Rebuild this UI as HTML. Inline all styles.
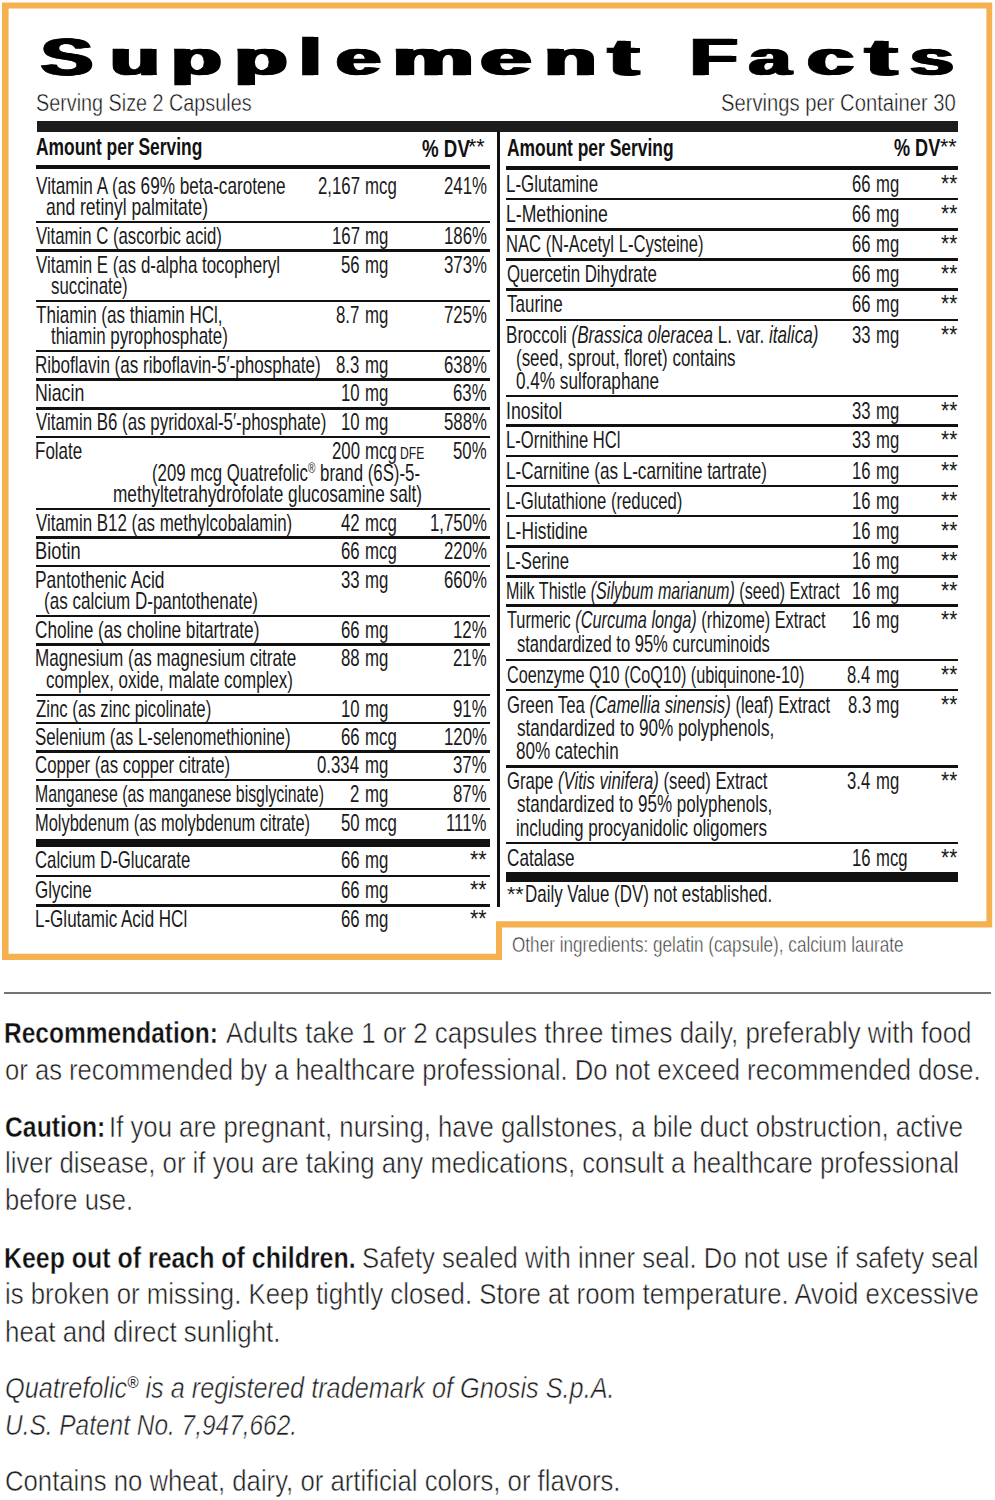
<!DOCTYPE html>
<html><head><meta charset="utf-8"><style>
html,body{margin:0;padding:0;background:#fff;}
body{width:995px;height:1500px;position:relative;overflow:hidden;font-family:"Liberation Sans",sans-serif;}
.t{position:absolute;white-space:nowrap;line-height:1;transform-origin:0 0;}
.r{position:absolute;}
.frame{position:absolute;left:0;top:0;}
</style></head><body>
<svg class="frame" width="995" height="1500" viewBox="0 0 995 1500"><path fill="#F5B14F" fill-rule="evenodd" d="M2,2.5 L992.2,2.5 L992.2,927.4 L502,927.4 L502,960 L2,960 Z M8.6,8.5 L986.4,8.5 L986.4,921.2 L496,921.2 L496,953.7 L8.6,953.7 Z"/></svg>
<div class="t" style="left:39.36px;top:31px;font-size:52.00px;transform:scaleX(1.4945);color:#000;text-shadow:1px 0 0 #000,2px 0 0 #000,3px 0 0 #000;-webkit-text-stroke:0.5px #000;"><span style="font-weight:700;">S</span></div>
<div class="t" style="left:108.04px;top:31px;font-size:52.00px;transform:scale(1.5592,0.9150);transform-origin:0 44px;color:#000;text-shadow:1px 0 0 #000,2px 0 0 #000,3px 0 0 #000;-webkit-text-stroke:0.5px #000;"><span style="font-weight:700;">u</span></div>
<div class="t" style="left:169.13px;top:31px;font-size:52.00px;transform:scale(1.5892,0.9150);transform-origin:0 44px;color:#000;text-shadow:1px 0 0 #000,2px 0 0 #000,3px 0 0 #000;-webkit-text-stroke:0.5px #000;"><span style="font-weight:700;">p</span></div>
<div class="t" style="left:231.64px;top:31px;font-size:52.00px;transform:scale(1.6746,0.9150);transform-origin:0 44px;color:#000;text-shadow:1px 0 0 #000,2px 0 0 #000,3px 0 0 #000;-webkit-text-stroke:0.5px #000;"><span style="font-weight:700;">p</span></div>
<div class="t" style="left:297.47px;top:31px;font-size:52.00px;transform:scaleX(1.5465);color:#000;text-shadow:1px 0 0 #000,2px 0 0 #000,3px 0 0 #000;-webkit-text-stroke:0.5px #000;"><span style="font-weight:700;">l</span></div>
<div class="t" style="left:333.79px;top:31px;font-size:52.00px;transform:scale(1.5449,0.9150);transform-origin:0 44px;color:#000;text-shadow:1px 0 0 #000,2px 0 0 #000,3px 0 0 #000;-webkit-text-stroke:0.5px #000;"><span style="font-weight:700;">e</span></div>
<div class="t" style="left:389.64px;top:31px;font-size:52.00px;transform:scale(1.7625,0.9150);transform-origin:0 44px;color:#000;text-shadow:1px 0 0 #000,2px 0 0 #000,3px 0 0 #000;-webkit-text-stroke:0.5px #000;"><span style="font-weight:700;">m</span></div>
<div class="t" style="left:477.78px;top:31px;font-size:52.00px;transform:scale(1.7697,0.9150);transform-origin:0 44px;color:#000;text-shadow:1px 0 0 #000,2px 0 0 #000,3px 0 0 #000;-webkit-text-stroke:0.5px #000;"><span style="font-weight:700;">e</span></div>
<div class="t" style="left:542.13px;top:31px;font-size:52.00px;transform:scale(1.6478,0.9150);transform-origin:0 44px;color:#000;text-shadow:1px 0 0 #000,2px 0 0 #000,3px 0 0 #000;-webkit-text-stroke:0.5px #000;"><span style="font-weight:700;">n</span></div>
<div class="t" style="left:605.79px;top:31px;font-size:52.00px;transform:scaleX(1.7544);color:#000;text-shadow:1px 0 0 #000,2px 0 0 #000,3px 0 0 #000;-webkit-text-stroke:0.5px #000;"><span style="font-weight:700;">t</span></div>
<div class="t" style="left:688.24px;top:31px;font-size:52.00px;transform:scaleX(1.4973);color:#000;text-shadow:1px 0 0 #000,2px 0 0 #000,3px 0 0 #000;-webkit-text-stroke:0.5px #000;"><span style="font-weight:700;">F</span></div>
<div class="t" style="left:746.91px;top:31px;font-size:52.00px;transform:scale(1.4543,0.9150);transform-origin:0 44px;color:#000;text-shadow:1px 0 0 #000,2px 0 0 #000,3px 0 0 #000;-webkit-text-stroke:0.5px #000;"><span style="font-weight:700;">a</span></div>
<div class="t" style="left:804.86px;top:31px;font-size:52.00px;transform:scale(1.6180,0.9150);transform-origin:0 44px;color:#000;text-shadow:1px 0 0 #000,2px 0 0 #000,3px 0 0 #000;-webkit-text-stroke:0.5px #000;"><span style="font-weight:700;">c</span></div>
<div class="t" style="left:863.46px;top:31px;font-size:52.00px;transform:scaleX(1.8111);color:#000;text-shadow:1px 0 0 #000,2px 0 0 #000,3px 0 0 #000;-webkit-text-stroke:0.5px #000;"><span style="font-weight:700;">t</span></div>
<div class="t" style="left:908.15px;top:31px;font-size:52.00px;transform:scale(1.5131,0.9150);transform-origin:0 44px;color:#000;text-shadow:1px 0 0 #000,2px 0 0 #000,3px 0 0 #000;-webkit-text-stroke:0.5px #000;"><span style="font-weight:700;">s</span></div>
<div class="t" style="left:36.41px;top:91px;font-size:24.60px;transform:scaleX(0.8044);color:#111;-webkit-text-stroke:0.45px #fff;">Serving Size 2 Capsules</div>
<div class="t" style="left:721.09px;top:91px;font-size:24.60px;transform:scaleX(0.8218);color:#111;-webkit-text-stroke:0.45px #fff;">Servings per Container 30</div>
<div class="r" style="left:37.00px;top:121.20px;width:921.20px;height:10.60px;background:#1c1c1c"></div>
<div class="r" style="left:497.30px;top:131.00px;width:2.70px;height:775.50px;background:#111"></div>
<div class="r" style="left:36.20px;top:164.90px;width:453.80px;height:4.60px;background:#111"></div>
<div class="r" style="left:506.30px;top:165.60px;width:452.00px;height:4.40px;background:#111"></div>
<div class="t" style="left:35.76px;top:136px;font-size:23.10px;transform:scaleX(0.7537);color:#111;"><span style="font-weight:700;">Amount per Serving</span></div>
<div class="t" style="left:422.23px;top:138px;font-size:23.10px;transform:scaleX(0.8110);color:#111;"><span style="font-weight:700;">% DV</span></div>
<div class="t" style="left:468.18px;top:137px;font-size:21.50px;transform:scaleX(0.9922);color:#111;">**</div>
<div class="t" style="left:506.56px;top:137px;font-size:23.10px;transform:scaleX(0.7547);color:#111;"><span style="font-weight:700;">Amount per Serving</span></div>
<div class="t" style="left:894.24px;top:137px;font-size:23.10px;transform:scaleX(0.7837);color:#111;"><span style="font-weight:700;">% DV</span></div>
<div class="t" style="left:940.48px;top:137px;font-size:21.50px;transform:scaleX(0.9922);color:#111;">**</div>
<div class="r" style="left:36.20px;top:220.75px;width:453.80px;height:2.50px;background:#111"></div>
<div class="r" style="left:36.20px;top:249.45px;width:453.80px;height:2.50px;background:#111"></div>
<div class="r" style="left:36.20px;top:299.75px;width:453.80px;height:2.50px;background:#111"></div>
<div class="r" style="left:36.20px;top:349.75px;width:453.80px;height:2.50px;background:#111"></div>
<div class="r" style="left:36.20px;top:378.25px;width:453.80px;height:2.50px;background:#111"></div>
<div class="r" style="left:36.20px;top:407.25px;width:453.80px;height:2.50px;background:#111"></div>
<div class="r" style="left:36.20px;top:435.75px;width:453.80px;height:2.50px;background:#111"></div>
<div class="r" style="left:36.20px;top:507.75px;width:453.80px;height:2.50px;background:#111"></div>
<div class="r" style="left:36.20px;top:536.35px;width:453.80px;height:2.50px;background:#111"></div>
<div class="r" style="left:36.20px;top:564.75px;width:453.80px;height:2.50px;background:#111"></div>
<div class="r" style="left:36.20px;top:614.75px;width:453.80px;height:2.50px;background:#111"></div>
<div class="r" style="left:36.20px;top:643.25px;width:453.80px;height:2.50px;background:#111"></div>
<div class="r" style="left:36.20px;top:693.75px;width:453.80px;height:2.50px;background:#111"></div>
<div class="r" style="left:36.20px;top:721.75px;width:453.80px;height:2.50px;background:#111"></div>
<div class="r" style="left:36.20px;top:750.25px;width:453.80px;height:2.50px;background:#111"></div>
<div class="r" style="left:36.20px;top:778.75px;width:453.80px;height:2.50px;background:#111"></div>
<div class="r" style="left:36.20px;top:807.75px;width:453.80px;height:2.50px;background:#111"></div>
<div class="r" style="left:36.20px;top:839.00px;width:453.80px;height:8.00px;background:#111"></div>
<div class="r" style="left:36.20px;top:874.75px;width:453.80px;height:2.50px;background:#111"></div>
<div class="r" style="left:36.20px;top:904.35px;width:453.80px;height:2.50px;background:#111"></div>
<div class="t" style="left:36.20px;top:175px;font-size:23.60px;transform:scaleX(0.7274);color:#1a1a1a;">Vitamin A (as 69% beta-carotene</div>
<div class="t" style="left:46.30px;top:196px;font-size:23.60px;transform:scaleX(0.7404);color:#1a1a1a;">and retinyl palmitate)</div>
<div class="t" style="left:317.75px;top:175px;font-size:23.60px;transform:scaleX(0.7120);color:#1a1a1a;">2,167</div>
<div class="t" style="left:365.31px;top:175px;font-size:23.60px;transform:scaleX(0.7120);color:#1a1a1a;">mcg</div>
<div class="t" style="left:443.77px;top:175px;font-size:23.60px;transform:scaleX(0.7120);color:#1a1a1a;">241%</div>
<div class="t" style="left:36.20px;top:225px;font-size:23.60px;transform:scaleX(0.7101);color:#1a1a1a;">Vitamin C (ascorbic acid)</div>
<div class="t" style="left:331.78px;top:225px;font-size:23.60px;transform:scaleX(0.7120);color:#1a1a1a;">167</div>
<div class="t" style="left:365.31px;top:225px;font-size:23.60px;transform:scaleX(0.7120);color:#1a1a1a;">mg</div>
<div class="t" style="left:443.77px;top:225px;font-size:23.60px;transform:scaleX(0.7120);color:#1a1a1a;">186%</div>
<div class="t" style="left:36.20px;top:254px;font-size:23.60px;transform:scaleX(0.7165);color:#1a1a1a;">Vitamin E (as d-alpha tocopheryl</div>
<div class="t" style="left:50.88px;top:275px;font-size:23.60px;transform:scaleX(0.7130);color:#1a1a1a;">succinate)</div>
<div class="t" style="left:341.02px;top:254px;font-size:23.60px;transform:scaleX(0.7120);color:#1a1a1a;">56</div>
<div class="t" style="left:365.31px;top:254px;font-size:23.60px;transform:scaleX(0.7120);color:#1a1a1a;">mg</div>
<div class="t" style="left:443.77px;top:254px;font-size:23.60px;transform:scaleX(0.7120);color:#1a1a1a;">373%</div>
<div class="t" style="left:35.86px;top:304px;font-size:23.60px;transform:scaleX(0.7224);color:#1a1a1a;">Thiamin (as thiamin HCl,</div>
<div class="t" style="left:51.05px;top:325px;font-size:23.60px;transform:scaleX(0.7172);color:#1a1a1a;">thiamin pyrophosphate)</div>
<div class="t" style="left:336.40px;top:304px;font-size:23.60px;transform:scaleX(0.7120);color:#1a1a1a;">8.7</div>
<div class="t" style="left:365.31px;top:304px;font-size:23.60px;transform:scaleX(0.7120);color:#1a1a1a;">mg</div>
<div class="t" style="left:443.77px;top:304px;font-size:23.60px;transform:scaleX(0.7120);color:#1a1a1a;">725%</div>
<div class="t" style="left:34.84px;top:354px;font-size:23.60px;transform:scaleX(0.7227);color:#1a1a1a;">Riboflavin (as riboflavin-5′-phosphate)</div>
<div class="t" style="left:336.32px;top:354px;font-size:23.60px;transform:scaleX(0.7120);color:#1a1a1a;">8.3</div>
<div class="t" style="left:365.31px;top:354px;font-size:23.60px;transform:scaleX(0.7120);color:#1a1a1a;">mg</div>
<div class="t" style="left:443.77px;top:354px;font-size:23.60px;transform:scaleX(0.7120);color:#1a1a1a;">638%</div>
<div class="t" style="left:34.78px;top:382px;font-size:23.60px;transform:scaleX(0.7512);color:#1a1a1a;">Niacin</div>
<div class="t" style="left:340.94px;top:382px;font-size:23.60px;transform:scaleX(0.7120);color:#1a1a1a;">10</div>
<div class="t" style="left:365.31px;top:382px;font-size:23.60px;transform:scaleX(0.7120);color:#1a1a1a;">mg</div>
<div class="t" style="left:453.18px;top:382px;font-size:23.60px;transform:scaleX(0.7120);color:#1a1a1a;">63%</div>
<div class="t" style="left:36.20px;top:411px;font-size:23.60px;transform:scaleX(0.7163);color:#1a1a1a;">Vitamin B6 (as pyridoxal-5′-phosphate)</div>
<div class="t" style="left:340.94px;top:411px;font-size:23.60px;transform:scaleX(0.7120);color:#1a1a1a;">10</div>
<div class="t" style="left:365.31px;top:411px;font-size:23.60px;transform:scaleX(0.7120);color:#1a1a1a;">mg</div>
<div class="t" style="left:443.77px;top:411px;font-size:23.60px;transform:scaleX(0.7120);color:#1a1a1a;">588%</div>
<div class="t" style="left:34.84px;top:440px;font-size:23.60px;transform:scaleX(0.7200);color:#1a1a1a;">Folate</div>
<div class="t" style="left:331.61px;top:440px;font-size:23.60px;transform:scaleX(0.7120);color:#1a1a1a;">200</div>
<div class="t" style="left:365.31px;top:440px;font-size:23.60px;transform:scaleX(0.7120);color:#1a1a1a;">mcg<span style="font-size:0.720em;"> DFE</span></div>
<div class="t" style="left:453.18px;top:440px;font-size:23.60px;transform:scaleX(0.7120);color:#1a1a1a;">50%</div>
<div class="t" style="left:152.29px;top:461px;font-size:23.60px;transform:scaleX(0.7122);color:#1a1a1a;">(209 mcg Quatrefolic<span style="font-size:0.600em;vertical-align:0.55em">®</span> brand (6S)-5-</div>
<div class="t" style="left:112.88px;top:483px;font-size:23.60px;transform:scaleX(0.7296);color:#1a1a1a;">methyltetrahydrofolate glucosamine salt)</div>
<div class="t" style="left:36.20px;top:512px;font-size:23.60px;transform:scaleX(0.7166);color:#1a1a1a;">Vitamin B12 (as methylcobalamin)</div>
<div class="t" style="left:341.10px;top:512px;font-size:23.60px;transform:scaleX(0.7120);color:#1a1a1a;">42</div>
<div class="t" style="left:365.31px;top:512px;font-size:23.60px;transform:scaleX(0.7120);color:#1a1a1a;">mcg</div>
<div class="t" style="left:429.74px;top:512px;font-size:23.60px;transform:scaleX(0.7120);color:#1a1a1a;">1,750%</div>
<div class="t" style="left:34.74px;top:540px;font-size:23.60px;transform:scaleX(0.7756);color:#1a1a1a;">Biotin</div>
<div class="t" style="left:341.02px;top:540px;font-size:23.60px;transform:scaleX(0.7120);color:#1a1a1a;">66</div>
<div class="t" style="left:365.31px;top:540px;font-size:23.60px;transform:scaleX(0.7120);color:#1a1a1a;">mcg</div>
<div class="t" style="left:443.77px;top:540px;font-size:23.60px;transform:scaleX(0.7120);color:#1a1a1a;">220%</div>
<div class="t" style="left:34.81px;top:569px;font-size:23.60px;transform:scaleX(0.7367);color:#1a1a1a;">Pantothenic Acid</div>
<div class="t" style="left:44.18px;top:590px;font-size:23.60px;transform:scaleX(0.7222);color:#1a1a1a;">(as calcium D-pantothenate)</div>
<div class="t" style="left:341.02px;top:569px;font-size:23.60px;transform:scaleX(0.7120);color:#1a1a1a;">33</div>
<div class="t" style="left:365.31px;top:569px;font-size:23.60px;transform:scaleX(0.7120);color:#1a1a1a;">mg</div>
<div class="t" style="left:443.77px;top:569px;font-size:23.60px;transform:scaleX(0.7120);color:#1a1a1a;">660%</div>
<div class="t" style="left:35.34px;top:619px;font-size:23.60px;transform:scaleX(0.7281);color:#1a1a1a;">Choline (as choline bitartrate)</div>
<div class="t" style="left:341.02px;top:619px;font-size:23.60px;transform:scaleX(0.7120);color:#1a1a1a;">66</div>
<div class="t" style="left:365.31px;top:619px;font-size:23.60px;transform:scaleX(0.7120);color:#1a1a1a;">mg</div>
<div class="t" style="left:453.18px;top:619px;font-size:23.60px;transform:scaleX(0.7120);color:#1a1a1a;">12%</div>
<div class="t" style="left:34.83px;top:647px;font-size:23.60px;transform:scaleX(0.7245);color:#1a1a1a;">Magnesium (as magnesium citrate</div>
<div class="t" style="left:45.52px;top:669px;font-size:23.60px;transform:scaleX(0.7186);color:#1a1a1a;">complex, oxide, malate complex)</div>
<div class="t" style="left:341.02px;top:647px;font-size:23.60px;transform:scaleX(0.7120);color:#1a1a1a;">88</div>
<div class="t" style="left:365.31px;top:647px;font-size:23.60px;transform:scaleX(0.7120);color:#1a1a1a;">mg</div>
<div class="t" style="left:453.18px;top:647px;font-size:23.60px;transform:scaleX(0.7120);color:#1a1a1a;">21%</div>
<div class="t" style="left:35.70px;top:698px;font-size:23.60px;transform:scaleX(0.7109);color:#1a1a1a;">Zinc (as zinc picolinate)</div>
<div class="t" style="left:340.94px;top:698px;font-size:23.60px;transform:scaleX(0.7120);color:#1a1a1a;">10</div>
<div class="t" style="left:365.31px;top:698px;font-size:23.60px;transform:scaleX(0.7120);color:#1a1a1a;">mg</div>
<div class="t" style="left:453.18px;top:698px;font-size:23.60px;transform:scaleX(0.7120);color:#1a1a1a;">91%</div>
<div class="t" style="left:35.44px;top:726px;font-size:23.60px;transform:scaleX(0.7136);color:#1a1a1a;">Selenium (as L-selenomethionine)</div>
<div class="t" style="left:341.02px;top:726px;font-size:23.60px;transform:scaleX(0.7120);color:#1a1a1a;">66</div>
<div class="t" style="left:365.31px;top:726px;font-size:23.60px;transform:scaleX(0.7120);color:#1a1a1a;">mcg</div>
<div class="t" style="left:443.77px;top:726px;font-size:23.60px;transform:scaleX(0.7120);color:#1a1a1a;">120%</div>
<div class="t" style="left:35.36px;top:754px;font-size:23.60px;transform:scaleX(0.7120);color:#1a1a1a;">Copper (as copper citrate)</div>
<div class="t" style="left:317.41px;top:754px;font-size:23.60px;transform:scaleX(0.7120);color:#1a1a1a;">0.334</div>
<div class="t" style="left:365.31px;top:754px;font-size:23.60px;transform:scaleX(0.7120);color:#1a1a1a;">mg</div>
<div class="t" style="left:453.18px;top:754px;font-size:23.60px;transform:scaleX(0.7120);color:#1a1a1a;">37%</div>
<div class="t" style="left:34.93px;top:783px;font-size:23.60px;transform:scaleX(0.6716);color:#1a1a1a;">Manganese (as manganese bisglycinate)</div>
<div class="t" style="left:350.43px;top:783px;font-size:23.60px;transform:scaleX(0.7120);color:#1a1a1a;">2</div>
<div class="t" style="left:365.31px;top:783px;font-size:23.60px;transform:scaleX(0.7120);color:#1a1a1a;">mg</div>
<div class="t" style="left:453.18px;top:783px;font-size:23.60px;transform:scaleX(0.7120);color:#1a1a1a;">87%</div>
<div class="t" style="left:34.88px;top:812px;font-size:23.60px;transform:scaleX(0.6968);color:#1a1a1a;">Molybdenum (as molybdenum citrate)</div>
<div class="t" style="left:340.94px;top:812px;font-size:23.60px;transform:scaleX(0.7120);color:#1a1a1a;">50</div>
<div class="t" style="left:365.31px;top:812px;font-size:23.60px;transform:scaleX(0.7120);color:#1a1a1a;">mcg</div>
<div class="t" style="left:446.29px;top:812px;font-size:23.60px;transform:scaleX(0.7120);color:#1a1a1a;">111%</div>
<div class="t" style="left:35.36px;top:849px;font-size:23.60px;transform:scaleX(0.7091);color:#1a1a1a;">Calcium D-Glucarate</div>
<div class="t" style="left:341.02px;top:849px;font-size:23.60px;transform:scaleX(0.7120);color:#1a1a1a;">66</div>
<div class="t" style="left:365.31px;top:849px;font-size:23.60px;transform:scaleX(0.7120);color:#1a1a1a;">mg</div>
<div class="t" style="left:469.88px;top:849px;font-size:23.60px;transform:scaleX(0.9040);color:#1a1a1a;">**</div>
<div class="t" style="left:35.35px;top:879px;font-size:23.60px;transform:scaleX(0.7221);color:#1a1a1a;">Glycine</div>
<div class="t" style="left:341.02px;top:879px;font-size:23.60px;transform:scaleX(0.7120);color:#1a1a1a;">66</div>
<div class="t" style="left:365.31px;top:879px;font-size:23.60px;transform:scaleX(0.7120);color:#1a1a1a;">mg</div>
<div class="t" style="left:469.88px;top:879px;font-size:23.60px;transform:scaleX(0.9040);color:#1a1a1a;">**</div>
<div class="t" style="left:34.84px;top:908px;font-size:23.60px;transform:scaleX(0.7209);color:#1a1a1a;">L-Glutamic Acid HCl</div>
<div class="t" style="left:341.02px;top:908px;font-size:23.60px;transform:scaleX(0.7120);color:#1a1a1a;">66</div>
<div class="t" style="left:365.31px;top:908px;font-size:23.60px;transform:scaleX(0.7120);color:#1a1a1a;">mg</div>
<div class="t" style="left:469.88px;top:908px;font-size:23.60px;transform:scaleX(0.9040);color:#1a1a1a;">**</div>
<div class="r" style="left:506.30px;top:197.75px;width:452.00px;height:2.50px;background:#111"></div>
<div class="r" style="left:506.30px;top:228.25px;width:452.00px;height:2.50px;background:#111"></div>
<div class="r" style="left:506.30px;top:258.05px;width:452.00px;height:2.50px;background:#111"></div>
<div class="r" style="left:506.30px;top:288.35px;width:452.00px;height:2.50px;background:#111"></div>
<div class="r" style="left:506.30px;top:318.55px;width:452.00px;height:2.50px;background:#111"></div>
<div class="r" style="left:506.30px;top:394.95px;width:452.00px;height:2.50px;background:#111"></div>
<div class="r" style="left:506.30px;top:424.35px;width:452.00px;height:2.50px;background:#111"></div>
<div class="r" style="left:506.30px;top:454.75px;width:452.00px;height:2.50px;background:#111"></div>
<div class="r" style="left:506.30px;top:484.75px;width:452.00px;height:2.50px;background:#111"></div>
<div class="r" style="left:506.30px;top:514.75px;width:452.00px;height:2.50px;background:#111"></div>
<div class="r" style="left:506.30px;top:545.15px;width:452.00px;height:2.50px;background:#111"></div>
<div class="r" style="left:506.30px;top:575.15px;width:452.00px;height:2.50px;background:#111"></div>
<div class="r" style="left:506.30px;top:604.35px;width:452.00px;height:2.50px;background:#111"></div>
<div class="r" style="left:506.30px;top:658.75px;width:452.00px;height:2.50px;background:#111"></div>
<div class="r" style="left:506.30px;top:688.75px;width:452.00px;height:2.50px;background:#111"></div>
<div class="r" style="left:506.30px;top:765.15px;width:452.00px;height:2.50px;background:#111"></div>
<div class="r" style="left:506.30px;top:841.75px;width:452.00px;height:2.50px;background:#111"></div>
<div class="r" style="left:506.30px;top:872.20px;width:452.10px;height:9.60px;background:#111"></div>
<div class="t" style="left:506.05px;top:173px;font-size:23.60px;transform:scaleX(0.7162);color:#1a1a1a;">L-Glutamine</div>
<div class="t" style="left:852.37px;top:173px;font-size:23.60px;transform:scaleX(0.7060);color:#1a1a1a;">66</div>
<div class="t" style="left:875.72px;top:173px;font-size:23.60px;transform:scaleX(0.7060);color:#1a1a1a;">mg</div>
<div class="t" style="left:940.99px;top:173px;font-size:23.60px;transform:scaleX(0.8870);color:#1a1a1a;">**</div>
<div class="t" style="left:505.99px;top:203px;font-size:23.60px;transform:scaleX(0.7471);color:#1a1a1a;">L-Methionine</div>
<div class="t" style="left:852.37px;top:203px;font-size:23.60px;transform:scaleX(0.7060);color:#1a1a1a;">66</div>
<div class="t" style="left:875.72px;top:203px;font-size:23.60px;transform:scaleX(0.7060);color:#1a1a1a;">mg</div>
<div class="t" style="left:940.99px;top:203px;font-size:23.60px;transform:scaleX(0.8870);color:#1a1a1a;">**</div>
<div class="t" style="left:506.07px;top:233px;font-size:23.60px;transform:scaleX(0.7044);color:#1a1a1a;">NAC (N-Acetyl L-Cysteine)</div>
<div class="t" style="left:852.37px;top:233px;font-size:23.60px;transform:scaleX(0.7060);color:#1a1a1a;">66</div>
<div class="t" style="left:875.72px;top:233px;font-size:23.60px;transform:scaleX(0.7060);color:#1a1a1a;">mg</div>
<div class="t" style="left:940.99px;top:233px;font-size:23.60px;transform:scaleX(0.8870);color:#1a1a1a;">**</div>
<div class="t" style="left:506.64px;top:263px;font-size:23.60px;transform:scaleX(0.7137);color:#1a1a1a;">Quercetin Dihydrate</div>
<div class="t" style="left:852.37px;top:263px;font-size:23.60px;transform:scaleX(0.7060);color:#1a1a1a;">66</div>
<div class="t" style="left:875.72px;top:263px;font-size:23.60px;transform:scaleX(0.7060);color:#1a1a1a;">mg</div>
<div class="t" style="left:940.99px;top:263px;font-size:23.60px;transform:scaleX(0.8870);color:#1a1a1a;">**</div>
<div class="t" style="left:507.06px;top:293px;font-size:23.60px;transform:scaleX(0.7198);color:#1a1a1a;">Taurine</div>
<div class="t" style="left:852.37px;top:293px;font-size:23.60px;transform:scaleX(0.7060);color:#1a1a1a;">66</div>
<div class="t" style="left:875.72px;top:293px;font-size:23.60px;transform:scaleX(0.7060);color:#1a1a1a;">mg</div>
<div class="t" style="left:940.99px;top:293px;font-size:23.60px;transform:scaleX(0.8870);color:#1a1a1a;">**</div>
<div class="t" style="left:506.03px;top:324px;font-size:23.60px;transform:scaleX(0.7241);color:#1a1a1a;">Broccoli <span style="font-style:italic;">(Brassica oleracea</span> L. var. <span style="font-style:italic;">italica)</span></div>
<div class="t" style="left:515.98px;top:347px;font-size:23.60px;transform:scaleX(0.7186);color:#1a1a1a;">(seed, sprout, floret) contains</div>
<div class="t" style="left:516.40px;top:370px;font-size:23.60px;transform:scaleX(0.7270);color:#1a1a1a;">0.4% sulforaphane</div>
<div class="t" style="left:852.37px;top:324px;font-size:23.60px;transform:scaleX(0.7060);color:#1a1a1a;">33</div>
<div class="t" style="left:875.72px;top:324px;font-size:23.60px;transform:scaleX(0.7060);color:#1a1a1a;">mg</div>
<div class="t" style="left:940.99px;top:324px;font-size:23.60px;transform:scaleX(0.8870);color:#1a1a1a;">**</div>
<div class="t" style="left:505.80px;top:400px;font-size:23.60px;transform:scaleX(0.7519);color:#1a1a1a;">Inositol</div>
<div class="t" style="left:852.37px;top:400px;font-size:23.60px;transform:scaleX(0.7060);color:#1a1a1a;">33</div>
<div class="t" style="left:875.72px;top:400px;font-size:23.60px;transform:scaleX(0.7060);color:#1a1a1a;">mg</div>
<div class="t" style="left:940.99px;top:400px;font-size:23.60px;transform:scaleX(0.8870);color:#1a1a1a;">**</div>
<div class="t" style="left:506.07px;top:429px;font-size:23.60px;transform:scaleX(0.7043);color:#1a1a1a;">L-Ornithine HCl</div>
<div class="t" style="left:852.37px;top:429px;font-size:23.60px;transform:scaleX(0.7060);color:#1a1a1a;">33</div>
<div class="t" style="left:875.72px;top:429px;font-size:23.60px;transform:scaleX(0.7060);color:#1a1a1a;">mg</div>
<div class="t" style="left:940.99px;top:429px;font-size:23.60px;transform:scaleX(0.8870);color:#1a1a1a;">**</div>
<div class="t" style="left:506.03px;top:460px;font-size:23.60px;transform:scaleX(0.7235);color:#1a1a1a;">L-Carnitine (as L-carnitine tartrate)</div>
<div class="t" style="left:852.37px;top:460px;font-size:23.60px;transform:scaleX(0.7060);color:#1a1a1a;">16</div>
<div class="t" style="left:875.72px;top:460px;font-size:23.60px;transform:scaleX(0.7060);color:#1a1a1a;">mg</div>
<div class="t" style="left:940.99px;top:460px;font-size:23.60px;transform:scaleX(0.8870);color:#1a1a1a;">**</div>
<div class="t" style="left:506.06px;top:490px;font-size:23.60px;transform:scaleX(0.7080);color:#1a1a1a;">L-Glutathione (reduced)</div>
<div class="t" style="left:852.37px;top:490px;font-size:23.60px;transform:scaleX(0.7060);color:#1a1a1a;">16</div>
<div class="t" style="left:875.72px;top:490px;font-size:23.60px;transform:scaleX(0.7060);color:#1a1a1a;">mg</div>
<div class="t" style="left:940.99px;top:490px;font-size:23.60px;transform:scaleX(0.8870);color:#1a1a1a;">**</div>
<div class="t" style="left:506.02px;top:520px;font-size:23.60px;transform:scaleX(0.7334);color:#1a1a1a;">L-Histidine</div>
<div class="t" style="left:852.37px;top:520px;font-size:23.60px;transform:scaleX(0.7060);color:#1a1a1a;">16</div>
<div class="t" style="left:875.72px;top:520px;font-size:23.60px;transform:scaleX(0.7060);color:#1a1a1a;">mg</div>
<div class="t" style="left:940.99px;top:520px;font-size:23.60px;transform:scaleX(0.8870);color:#1a1a1a;">**</div>
<div class="t" style="left:506.06px;top:550px;font-size:23.60px;transform:scaleX(0.7074);color:#1a1a1a;">L-Serine</div>
<div class="t" style="left:852.37px;top:550px;font-size:23.60px;transform:scaleX(0.7060);color:#1a1a1a;">16</div>
<div class="t" style="left:875.72px;top:550px;font-size:23.60px;transform:scaleX(0.7060);color:#1a1a1a;">mg</div>
<div class="t" style="left:940.99px;top:550px;font-size:23.60px;transform:scaleX(0.8870);color:#1a1a1a;">**</div>
<div class="t" style="left:506.11px;top:580px;font-size:23.60px;transform:scaleX(0.6828);color:#1a1a1a;">Milk Thistle <span style="font-style:italic;">(Silybum marianum)</span> (seed) Extract</div>
<div class="t" style="left:852.37px;top:580px;font-size:23.60px;transform:scaleX(0.7060);color:#1a1a1a;">16</div>
<div class="t" style="left:875.72px;top:580px;font-size:23.60px;transform:scaleX(0.7060);color:#1a1a1a;">mg</div>
<div class="t" style="left:940.99px;top:580px;font-size:23.60px;transform:scaleX(0.8870);color:#1a1a1a;">**</div>
<div class="t" style="left:507.07px;top:609px;font-size:23.60px;transform:scaleX(0.6913);color:#1a1a1a;">Turmeric <span style="font-style:italic;">(Curcuma longa)</span> (rhizome) Extract</div>
<div class="t" style="left:516.59px;top:633px;font-size:23.60px;transform:scaleX(0.7011);color:#1a1a1a;">standardized to 95% curcuminoids</div>
<div class="t" style="left:852.37px;top:609px;font-size:23.60px;transform:scaleX(0.7060);color:#1a1a1a;">16</div>
<div class="t" style="left:875.72px;top:609px;font-size:23.60px;transform:scaleX(0.7060);color:#1a1a1a;">mg</div>
<div class="t" style="left:940.99px;top:609px;font-size:23.60px;transform:scaleX(0.8870);color:#1a1a1a;">**</div>
<div class="t" style="left:506.59px;top:664px;font-size:23.60px;transform:scaleX(0.6871);color:#1a1a1a;">Coenzyme Q10 (CoQ10) (ubiquinone-10)</div>
<div class="t" style="left:847.46px;top:664px;font-size:23.60px;transform:scaleX(0.7060);color:#1a1a1a;">8.4</div>
<div class="t" style="left:875.72px;top:664px;font-size:23.60px;transform:scaleX(0.7060);color:#1a1a1a;">mg</div>
<div class="t" style="left:940.99px;top:664px;font-size:23.60px;transform:scaleX(0.8870);color:#1a1a1a;">**</div>
<div class="t" style="left:506.56px;top:694px;font-size:23.60px;transform:scaleX(0.7089);color:#1a1a1a;">Green Tea <span style="font-style:italic;">(Camellia sinensis)</span> (leaf) Extract</div>
<div class="t" style="left:516.57px;top:717px;font-size:23.60px;transform:scaleX(0.7263);color:#1a1a1a;">standardized to 90% polyphenols,</div>
<div class="t" style="left:516.32px;top:740px;font-size:23.60px;transform:scaleX(0.7248);color:#1a1a1a;">80% catechin</div>
<div class="t" style="left:847.71px;top:694px;font-size:23.60px;transform:scaleX(0.7060);color:#1a1a1a;">8.3</div>
<div class="t" style="left:875.72px;top:694px;font-size:23.60px;transform:scaleX(0.7060);color:#1a1a1a;">mg</div>
<div class="t" style="left:940.99px;top:694px;font-size:23.60px;transform:scaleX(0.8870);color:#1a1a1a;">**</div>
<div class="t" style="left:506.57px;top:770px;font-size:23.60px;transform:scaleX(0.7076);color:#1a1a1a;">Grape <span style="font-style:italic;">(Vitis vinifera)</span> (seed) Extract</div>
<div class="t" style="left:516.57px;top:793px;font-size:23.60px;transform:scaleX(0.7206);color:#1a1a1a;">standardized to 95% polyphenols,</div>
<div class="t" style="left:515.89px;top:817px;font-size:23.60px;transform:scaleX(0.7251);color:#1a1a1a;">including procyanidolic oligomers</div>
<div class="t" style="left:847.46px;top:770px;font-size:23.60px;transform:scaleX(0.7060);color:#1a1a1a;">3.4</div>
<div class="t" style="left:875.72px;top:770px;font-size:23.60px;transform:scaleX(0.7060);color:#1a1a1a;">mg</div>
<div class="t" style="left:940.99px;top:770px;font-size:23.60px;transform:scaleX(0.8870);color:#1a1a1a;">**</div>
<div class="t" style="left:506.54px;top:847px;font-size:23.60px;transform:scaleX(0.7265);color:#1a1a1a;">Catalase</div>
<div class="t" style="left:852.37px;top:847px;font-size:23.60px;transform:scaleX(0.7060);color:#1a1a1a;">16</div>
<div class="t" style="left:875.72px;top:847px;font-size:23.60px;transform:scaleX(0.7060);color:#1a1a1a;">mcg</div>
<div class="t" style="left:940.99px;top:847px;font-size:23.60px;transform:scaleX(0.8870);color:#1a1a1a;">**</div>
<div class="t" style="left:507.18px;top:883px;font-size:21.00px;transform:scaleX(1.0222);color:#1a1a1a;">**</div>
<div class="t" style="left:524.65px;top:883px;font-size:23.60px;transform:scaleX(0.7177);color:#1a1a1a;">Daily Value (DV) not established.</div>
<div class="t" style="left:512.03px;top:934px;font-size:21.80px;transform:scaleX(0.7864);color:#333;-webkit-text-stroke:0.5px #fff;">Other ingredients: gelatin (capsule), calcium laurate</div>
<div class="r" style="left:4.00px;top:992.00px;width:986.80px;height:2.00px;background:#747474"></div>
<div class="t" style="left:4.41px;top:1019px;font-size:29.00px;transform:scaleX(0.8455);color:#111;-webkit-text-stroke:0.35px #fff;"><span style="font-weight:700;">Recommendation:</span></div>
<div class="t" style="left:226.00px;top:1019px;font-size:29.00px;transform:scaleX(0.8934);color:#1e1e1e;-webkit-text-stroke:0.5px #fff;">Adults take 1 or 2 capsules three times daily, preferably with food</div>
<div class="t" style="left:4.98px;top:1056px;font-size:29.00px;transform:scaleX(0.8836);color:#1e1e1e;-webkit-text-stroke:0.5px #fff;">or as recommended by a healthcare professional. Do not exceed recommended dose.</div>
<div class="t" style="left:5.01px;top:1113px;font-size:29.00px;transform:scaleX(0.8533);color:#111;-webkit-text-stroke:0.35px #fff;"><span style="font-weight:700;">Caution:</span></div>
<div class="t" style="left:109.28px;top:1113px;font-size:29.00px;transform:scaleX(0.8874);color:#1e1e1e;-webkit-text-stroke:0.5px #fff;">If you are pregnant, nursing, have gallstones, a bile duct obstruction, active</div>
<div class="t" style="left:4.82px;top:1149px;font-size:29.00px;transform:scaleX(0.8886);color:#1e1e1e;-webkit-text-stroke:0.5px #fff;">liver disease, or if you are taking any medications, consult a healthcare professional</div>
<div class="t" style="left:4.97px;top:1186px;font-size:29.00px;transform:scaleX(0.8821);color:#1e1e1e;-webkit-text-stroke:0.5px #fff;">before use.</div>
<div class="t" style="left:4.38px;top:1244px;font-size:29.00px;transform:scaleX(0.8591);color:#111;-webkit-text-stroke:0.35px #fff;"><span style="font-weight:700;">Keep out of reach of children.</span></div>
<div class="t" style="left:361.64px;top:1244px;font-size:29.00px;transform:scaleX(0.8872);color:#1e1e1e;-webkit-text-stroke:0.5px #fff;">Safety sealed with inner seal. Do not use if safety seal</div>
<div class="t" style="left:4.82px;top:1280px;font-size:29.00px;transform:scaleX(0.8888);color:#1e1e1e;-webkit-text-stroke:0.5px #fff;">is broken or missing. Keep tightly closed. Store at room temperature. Avoid excessive</div>
<div class="t" style="left:4.81px;top:1318px;font-size:29.00px;transform:scaleX(0.8946);color:#1e1e1e;-webkit-text-stroke:0.5px #fff;">heat and direct sunlight.</div>
<div class="t" style="left:5.36px;top:1374px;font-size:29.00px;transform:scaleX(0.8715);color:#1e1e1e;-webkit-text-stroke:0.5px #fff;"><span style="font-style:italic;">Quatrefolic</span><span style="font-style:italic;font-size:0.600em;vertical-align:0.6em;-webkit-text-stroke:0;">®</span><span style="font-style:italic;"> is a registered trademark of Gnosis S.p.A.</span></div>
<div class="t" style="left:4.79px;top:1411px;font-size:29.00px;transform:scaleX(0.8427);color:#1e1e1e;-webkit-text-stroke:0.5px #fff;"><span style="font-style:italic;">U.S. Patent No. 7,947,662.</span></div>
<div class="t" style="left:4.71px;top:1467px;font-size:29.00px;transform:scaleX(0.8867);color:#1e1e1e;-webkit-text-stroke:0.5px #fff;">Contains no wheat, dairy, or artificial colors, or flavors.</div>
</body></html>
